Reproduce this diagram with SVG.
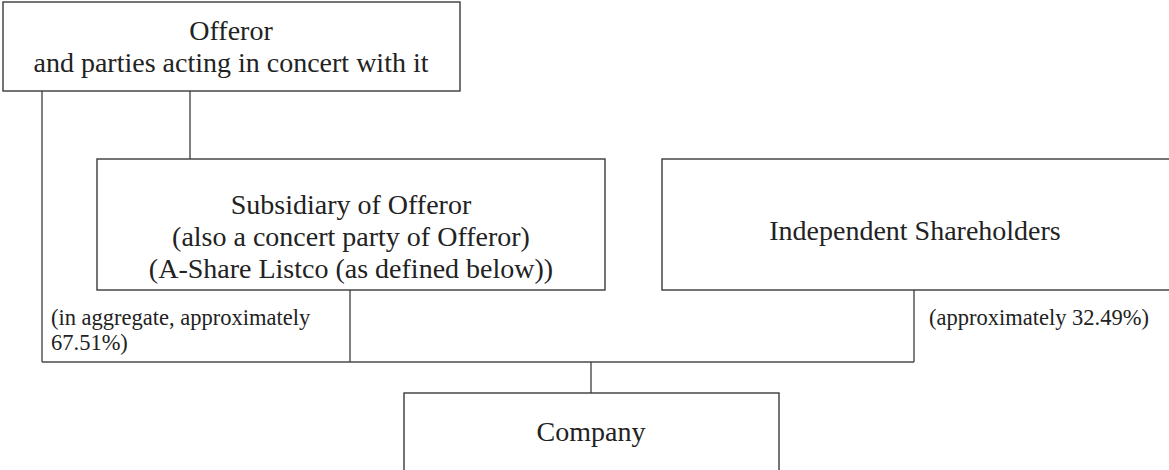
<svg xmlns="http://www.w3.org/2000/svg" width="1169" height="470" viewBox="0 0 1169 470">
  <style>
    .box { fill: #ffffff; stroke: #3a3a3a; stroke-width: 1.4; }
    .link { fill: none; stroke: #4a4a4a; stroke-width: 1.4; }
    .main { font-family: "Liberation Serif", "Times New Roman", serif; font-size: 28px; fill: #222222; text-anchor: middle; }
    .note { font-family: "Liberation Serif", "Times New Roman", serif; font-size: 22.5px; fill: #222222; }
  </style>
  <rect width="1169" height="470" fill="#ffffff"/>

  <!-- connectors -->
  <g id="connectors">
    <line class="link" x1="42" y1="91" x2="42" y2="362"/>
    <line class="link" x1="190" y1="91" x2="190" y2="159"/>
    <line class="link" x1="350" y1="290" x2="350" y2="362"/>
    <line class="link" x1="914" y1="290" x2="914" y2="362"/>
    <line class="link" x1="42" y1="362" x2="914" y2="362"/>
    <line class="link" x1="591" y1="362" x2="591" y2="393"/>
    <text class="note" x="51" y="325">(in aggregate, approximately</text>
    <text class="note" x="51" y="350">67.51%)</text>
    <text class="note" x="929" y="325">(approximately 32.49%)</text>
  </g>

  <g id="offeror">
    <rect class="box" x="3" y="2" width="457" height="89"/>
    <text class="main" x="231" y="40">Offeror</text>
    <text class="main" x="231" y="72">and parties acting in concert with it</text>
  </g>

  <g id="subsidiary">
    <rect class="box" x="97" y="159" width="508" height="131"/>
    <text class="main" x="351" y="214">Subsidiary of Offeror</text>
    <text class="main" x="351" y="246">(also a concert party of Offeror)</text>
    <text class="main" x="351" y="278">(A-Share Listco (as defined below))</text>
  </g>

  <g id="independent">
    <rect class="box" x="662" y="159" width="510" height="131"/>
    <text class="main" x="915" y="240">Independent Shareholders</text>
  </g>

  <g id="company">
    <rect class="box" x="404" y="393" width="375" height="90"/>
    <text class="main" x="591" y="441">Company</text>
  </g>
</svg>
